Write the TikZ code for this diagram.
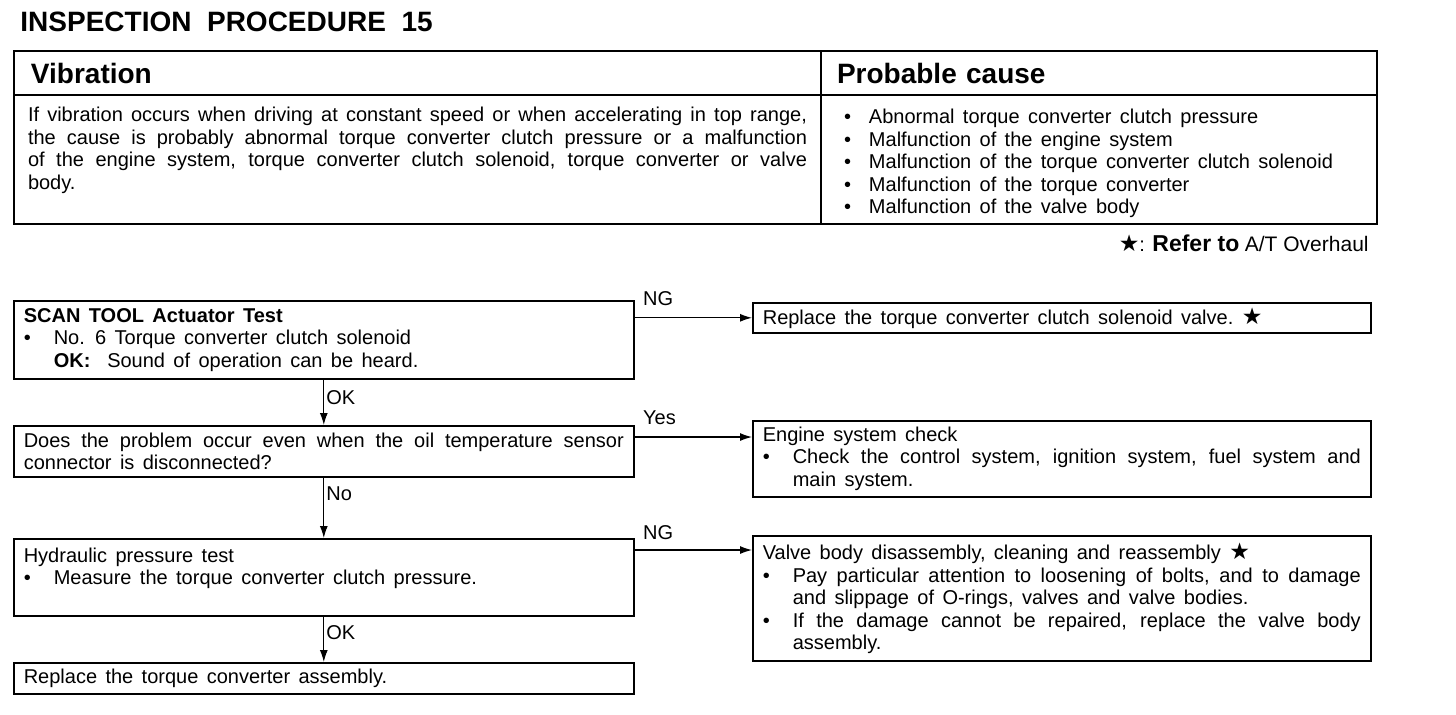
\documentclass[tikz,border=0pt]{standalone}
\usepackage{fontspec}
\setmainfont{Liberation Sans}
\newfontfamily\starfont{DejaVu Sans}
\usetikzlibrary{arrows.meta, calc}
\setlength{\parindent}{0pt}
\newcommand{\bodyfont}{\fontsize{10}{11.25}\selectfont\spaceskip=0.42em plus 0.3em minus 0.12em\relax}
\newcommand{\bstar}{{\starfont\fontsize{11.5}{11}\selectfont ★}}
\newcommand{\bitem}[2][15pt]{\par\hangindent=#1\hangafter=1\noindent\makebox[#1][l]{\textbullet}#2\par}
\tikzset{
    step_box/.style={
        rectangle, draw=black, line width=0.8pt, anchor=north west,
        inner xsep=5pt, inner ysep=2pt, text width=300pt,
        align=justify, font=\bodyfont
    },
    end_box/.style={
        step_box, text width=299pt
    },
    cell_head/.style={
        rectangle, draw=black, line width=1pt, anchor=north west,
        minimum height=22pt, inner ysep=2pt, align=left,
        font=\fontsize{14}{16}\selectfont\bfseries
    },
    cell_body/.style={
        rectangle, draw=black, line width=1pt, anchor=north west,
        minimum height=64.5pt, inner ysep=3pt, align=justify, font=\bodyfont
    },
    flow_arrow/.style={
        -{Latex[length=6pt,width=4pt]}, line width=0.6pt, draw=black
    },
    lbl/.style={
        font=\fontsize{10}{11}\selectfont, inner sep=1pt
    }
}

\begin{document}
\begin{tikzpicture}[x=0.5pt, y=-0.5pt]
    \useasboundingbox (0,0) rectangle (1456,714);

    % Heading
    \node[anchor=west, inner sep=0pt, font=\fontsize{14}{16}\selectfont\bfseries] (title) at (20,22) {INSPECTION\ \ PROCEDURE\ \ 15};

    % Symptom table
    \node[cell_head, text width=386.5pt, inner xsep=8.5pt] (vibhead) at (13,50) {Vibration};
    \node[cell_head, text width=262pt, inner xsep=8pt] (causehead) at (820,50) {Probable cause};
    \node[cell_body, text width=389.5pt, inner xsep=7pt] (vibbody) at (13,94) {If vibration occurs when driving at constant speed or when accelerating in top range,\linebreak the cause is probably abnormal torque converter clutch pressure or a malfunction\linebreak of the engine system, torque converter clutch solenoid, torque converter or valve\linebreak body.\par\mbox{}};
    \node[cell_body, text width=255pt, inner xsep=11.5pt] (causebody) at (820,94) {\bitem[12.5pt]{Abnormal torque converter clutch pressure}\bitem[12.5pt]{Malfunction of the engine system}\bitem[12.5pt]{Malfunction of the torque converter clutch solenoid}\bitem[12.5pt]{Malfunction of the torque converter}\bitem[12.5pt]{Malfunction of the valve body}};
    \node[anchor=east, inner sep=0pt] (refnote) at (1369,243) {\bstar: {\fontsize{11.5}{13}\selectfont\bfseries Refer to} {\fontsize{10.5}{12}\selectfont A/T Overhaul}};

    % Left column (checks)
    \node[step_box, minimum height=39pt] (scan) at (13,300) {\textbf{SCAN TOOL Actuator Test}\bitem{No. 6 Torque converter clutch solenoid}\hspace*{15pt}\textbf{OK:}\ \ Sound of operation can be heard.};
    \node[step_box, minimum height=25.5pt] (oiltemp) at (13,425) {Does the problem occur even when the oil temperature sensor\linebreak connector is disconnected?};
    \node[step_box, minimum height=38.5pt] (hydro) at (13,538) {Hydraulic pressure test\bitem{Measure the torque converter clutch pressure.}\mbox{}};
    \node[step_box, minimum height=15.5pt] (tconv) at (13,662) {Replace the torque converter assembly.};

    % Right column (remedies)
    \node[end_box, minimum height=15pt] (solvalve) at (752,302) {Replace the torque converter clutch solenoid valve.~\bstar};
    \node[end_box, minimum height=38pt] (engine) at (752,420) {Engine system check\bitem{Check the control system, ignition system, fuel system and\linebreak main system.}};
    \node[end_box, minimum height=62.5pt] (valvebody) at (752,535) {Valve body disassembly, cleaning and reassembly~\bstar\bitem{Pay particular attention to loosening of bolts, and to damage\linebreak and slippage of O-rings, valves and valve bodies.}\bitem{If the damage cannot be repaired, replace the valve body\linebreak assembly.}};

    \coordinate (engine_in) at ($(engine.north west)+(0,17)$);
    \coordinate (valve_in) at ($(valvebody.north west)+(0,15)$);

    % Down the left column
    \draw[flow_arrow] (scan.south) -- node[lbl, right, pos=0.4] {OK} (oiltemp.north);
    \draw[flow_arrow] (oiltemp.south) -- node[lbl, right, pos=0.26] {No} (hydro.north);
    \draw[flow_arrow] (hydro.south) -- node[lbl, right, pos=0.36] {OK} (tconv.north);

    % Across to the remedies
    \draw[flow_arrow] (scan.east |- solvalve.west) -- node[lbl, pos=0, anchor=south west, xshift=3pt, yshift=5pt] {NG} (solvalve.west);
    \draw[flow_arrow] (oiltemp.east |- engine_in) -- node[lbl, pos=0, anchor=south west, xshift=3pt, yshift=5pt] {Yes} (engine_in);
    \draw[flow_arrow] (hydro.east |- valve_in) -- node[lbl, pos=0, anchor=south west, xshift=3pt, yshift=4pt] {NG} (valve_in);
\end{tikzpicture}
\end{document}
